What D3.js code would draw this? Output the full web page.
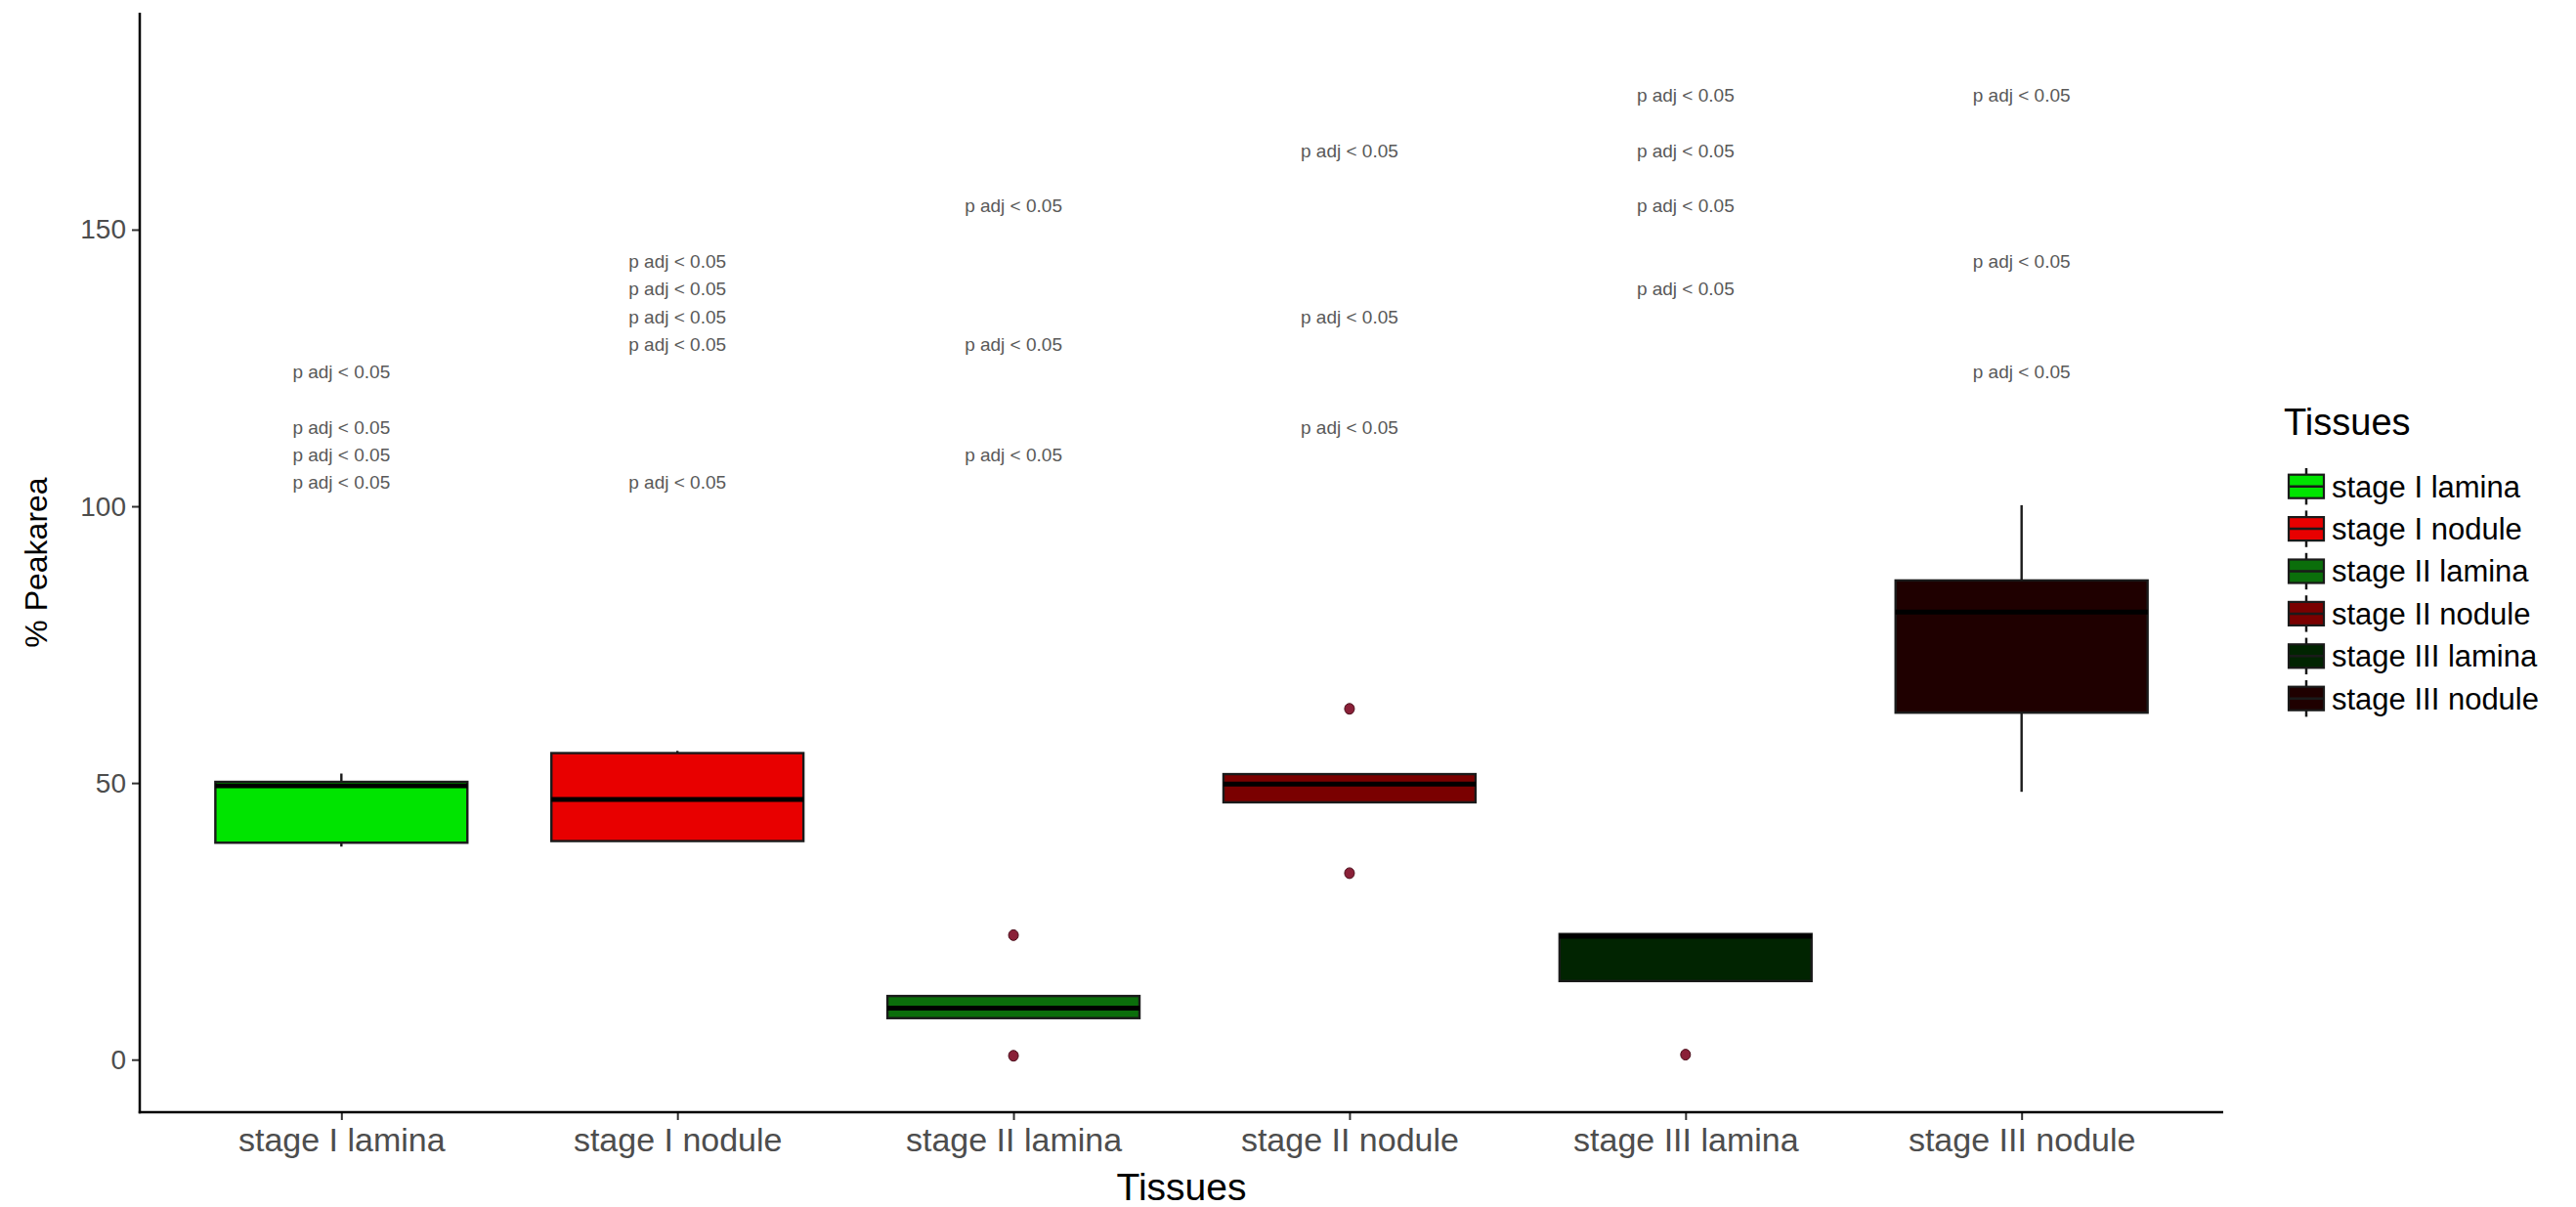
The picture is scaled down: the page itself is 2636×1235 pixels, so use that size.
<!DOCTYPE html>
<html>
<head>
<meta charset="utf-8">
<script src="https://cdn.jsdelivr.net/npm/d3@7"></script>
<style>
  html, body { margin: 0; padding: 0; background: #ffffff; }
  svg { display: block; }
  text { font-family: "Liberation Sans", Arial, sans-serif; }
</style>
</head>
<body>
<svg id="chart" width="2636" height="1235"></svg>
<script>
// ---------------- data ----------------
const categories = ["stage I lamina", "stage I nodule", "stage II lamina", "stage II nodule", "stage III lamina", "stage III nodule"];
const fillColors = ["#00e400", "#e80000", "#0b6e0b", "#7a0000", "#012401", "#1f0000"];
// five-number summaries
const whiskerLow  = [38.5, 39.5, 7.5, 46.5, 14.2, 48.4];
const q1          = [39.2, 39.5, 7.5, 46.5, 14.2, 62.7];
const median      = [49.5, 47.0, 9.3, 49.8, 22.3, 80.9];
const q3          = [50.2, 55.4, 11.5, 51.6, 22.7, 86.6];
const whiskerHigh = [51.7, 55.8, 11.5, 51.6, 22.7, 100.2];
// outliers
const outlierCat = ["stage II lamina", "stage II lamina", "stage II nodule", "stage II nodule", "stage III lamina"];
const outlierVal = [22.5, 0.7, 63.4, 33.7, 0.9];
// "p adj < 0.05" annotations
const annotCat = [
  "stage I lamina", "stage I lamina", "stage I lamina", "stage I lamina",
  "stage I nodule", "stage I nodule", "stage I nodule", "stage I nodule", "stage I nodule",
  "stage II lamina", "stage II lamina", "stage II lamina",
  "stage II nodule", "stage II nodule", "stage II nodule",
  "stage III lamina", "stage III lamina", "stage III lamina", "stage III lamina",
  "stage III nodule", "stage III nodule", "stage III nodule"
];
const annotVal = [
  125, 115, 110, 105,
  145, 140, 135, 130, 105,
  155, 130, 110,
  165, 135, 115,
  175, 165, 155, 140,
  175, 145, 125
];
const annotText = "p adj < 0.05";
const yTicks = [0, 50, 100, 150];
const xTitle = "Tissues";
const yTitle = "% Peakarea";
const legendTitle = "Tissues";

// ---------------- layout ----------------
const svg = d3.select("#chart");
const plot = { left: 143, right: 2275, top: 13, bottom: 1138 };

const x = d3.scalePoint().domain(categories).range([plot.left, plot.right]).padding(0.6);
const y = d3.scaleLinear().domain([-9.5, 189.2]).range([plot.bottom, plot.top]);
const boxW = x.step() * 0.75;
const color = d3.scaleOrdinal().domain(categories).range(fillColors);

const boxes = categories.map((c, i) => ({
  cat: c, lo: whiskerLow[i], q1: q1[i], med: median[i], q3: q3[i], hi: whiskerHigh[i]
}));

const g = svg.append("g");

// whiskers
g.selectAll("line.wh-up").data(boxes).join("line")
  .attr("x1", d => x(d.cat)).attr("x2", d => x(d.cat))
  .attr("y1", d => y(d.q3)).attr("y2", d => y(d.hi))
  .attr("stroke", "#1a1a1a").attr("stroke-width", 2.4);
g.selectAll("line.wh-lo").data(boxes).join("line")
  .attr("x1", d => x(d.cat)).attr("x2", d => x(d.cat))
  .attr("y1", d => y(d.q1)).attr("y2", d => y(d.lo))
  .attr("stroke", "#1a1a1a").attr("stroke-width", 2.4);

// boxes
g.selectAll("rect.box").data(boxes).join("rect")
  .attr("x", d => x(d.cat) - boxW / 2)
  .attr("width", boxW)
  .attr("y", d => y(d.q3))
  .attr("height", d => y(d.q1) - y(d.q3))
  .attr("fill", d => color(d.cat))
  .attr("stroke", "#1a1a1a").attr("stroke-width", 2.4);

// medians
g.selectAll("line.med").data(boxes).join("line")
  .attr("x1", d => x(d.cat) - boxW / 2).attr("x2", d => x(d.cat) + boxW / 2)
  .attr("y1", d => y(d.med)).attr("y2", d => y(d.med))
  .attr("stroke", "#000").attr("stroke-width", 5);

// outliers
const outliers = outlierCat.map((c, i) => ({ cat: c, v: outlierVal[i] }));
g.selectAll("ellipse.out").data(outliers).join("ellipse")
  .attr("cx", d => x(d.cat)).attr("cy", d => y(d.v))
  .attr("rx", 5).attr("ry", 5.5)
  .attr("fill", "#8a2038").attr("stroke", "#4a0d1a").attr("stroke-width", 1);

// annotations
const annots = annotCat.map((c, i) => ({ cat: c, v: annotVal[i] }));
g.selectAll("text.annot").data(annots).join("text")
  .attr("x", d => x(d.cat)).attr("y", d => y(d.v))
  .attr("text-anchor", "middle").attr("dy", "0.56em")
  .attr("font-size", 19).attr("fill", "#595959")
  .text(annotText);

// axes
const xAxis = d3.axisBottom(x).tickSize(8).tickPadding(8);
const yAxis = d3.axisLeft(y).tickValues(yTicks).tickSize(8).tickPadding(6);

const gx = svg.append("g").attr("transform", `translate(0,${plot.bottom})`).call(xAxis);
gx.select(".domain").remove();
gx.selectAll(".tick line").attr("stroke", "#333").attr("stroke-width", 2);
gx.selectAll(".tick text").attr("font-size", 34).attr("fill", "#4d4d4d").attr("font-family", "Liberation Sans, Arial, sans-serif");

const gy = svg.append("g").attr("transform", `translate(${plot.left},0)`).call(yAxis);
gy.select(".domain").remove();
gy.selectAll(".tick line").attr("stroke", "#333").attr("stroke-width", 2);
gy.selectAll(".tick text").attr("font-size", 28).attr("fill", "#4d4d4d").attr("font-family", "Liberation Sans, Arial, sans-serif");

// axis lines
svg.append("line").attr("x1", plot.left).attr("x2", plot.left).attr("y1", plot.top).attr("y2", plot.bottom + 1.2)
  .attr("stroke", "#000").attr("stroke-width", 2.5);
svg.append("line").attr("x1", plot.left - 1.2).attr("x2", plot.right).attr("y1", plot.bottom).attr("y2", plot.bottom)
  .attr("stroke", "#000").attr("stroke-width", 2.5);

// axis titles
svg.append("text").attr("x", (plot.left + plot.right) / 2).attr("y", 1228)
  .attr("text-anchor", "middle").attr("font-size", 39).attr("fill", "#000").text(xTitle);
svg.append("text").attr("transform", `translate(48,${(plot.top + plot.bottom) / 2}) rotate(-90)`)
  .attr("text-anchor", "middle").attr("font-size", 32).attr("fill", "#000").text(yTitle);

// legend
const leg = svg.append("g").attr("transform", "translate(2337,0)");
leg.append("text").attr("x", 0).attr("y", 432).attr("dy", "0.35em")
  .attr("font-size", 38).attr("fill", "#000").text(legendTitle);
const keyH = 43.4, keyTop = 476;
const items = leg.selectAll("g.item").data(categories).join("g")
  .attr("transform", (d, i) => `translate(0,${keyTop + i * keyH})`);
items.append("line").attr("x1", 23).attr("x2", 23).attr("y1", 3).attr("y2", keyH - 3)
  .attr("stroke", "#1a1a1a").attr("stroke-width", 2.5);
items.append("rect").attr("x", 5).attr("y", keyH / 2 - 12).attr("width", 36).attr("height", 24)
  .attr("fill", d => color(d)).attr("stroke", "#1a1a1a").attr("stroke-width", 2.2);
items.append("line").attr("x1", 5).attr("x2", 41).attr("y1", keyH / 2).attr("y2", keyH / 2)
  .attr("stroke", "#1a1a1a").attr("stroke-width", 2.5);
items.append("text").attr("x", 49).attr("y", keyH / 2).attr("dy", "0.35em")
  .attr("font-size", 31).attr("fill", "#000").text(d => d);
</script>
</body>
</html>
